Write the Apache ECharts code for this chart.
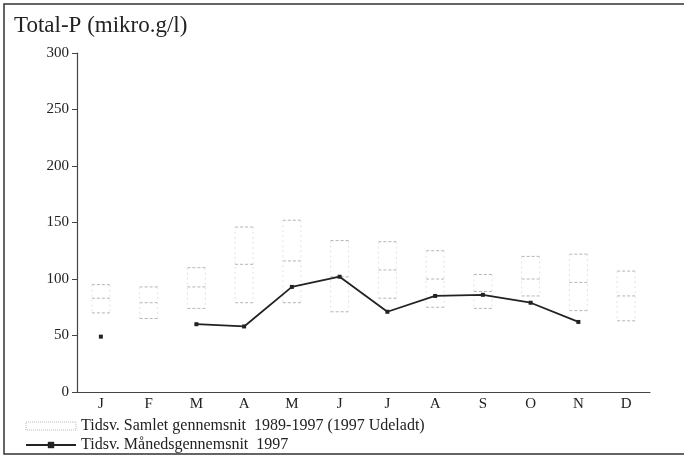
<!DOCTYPE html>
<html>
<head>
	<meta charset="utf-8" />
	<title>Total-P</title>
	<script type="text/javascript" src="https://cdn.jsdelivr.net/npm/echarts@6/dist/echarts.min.js"></script>
	<style>
		html, body {margin:0;padding:0;background:#fff;}
		#chart {width:684px;height:459px;}
	</style>
</head>
<body>
	<div id="chart"></div>
	<script>
		var months = ['J', 'F', 'M', 'A', 'M', 'J', 'J', 'A', 'S', 'O', 'N', 'D'];
		var yTicks = [0, 50, 100, 150, 200, 250, 300];

		// Tidsv. Samlet gennemsnit 1989-1997 (lav / middel / høj)
		var avgLow  = [70, 65, 74, 79, 79, 71, 83, 75, 74, 85, 72, 63];
		var avgMid  = [83, 79, 93, 113, 116, 102, 108, 100, 89, 100, 97, 85];
		var avgHigh = [95, 93, 110, 146, 152, 134, 133, 125, 104, 120, 122, 107];

		// Tidsv. Månedsgennemsnit 1997
		var month1997 = [49, '-', 60, 58, 93, 102, 71, 85, 86, 79, 62, '-'];

		var fontFam = '"Liberation Serif", "DejaVu Serif", serif';
		var boxName = 'Tidsv. Samlet gennemsnit  1989-1997 (1997 Udeladt)';
		var lineName = 'Tidsv. Månedsgennemsnit  1997';

		var boxData = months.map(function(m, i) {
			return [i, avgLow[i], avgMid[i], avgHigh[i]];
		});

		// faint dotted box: clear horizontal dashes, very light sides
		function renderBox(params, api) {
			var x = api.coord([api.value(0), 0])[0];
			var yLow = api.coord([api.value(0), api.value(1)])[1];
			var yMid = api.coord([api.value(0), api.value(2)])[1];
			var yHigh = api.coord([api.value(0), api.value(3)])[1];
			var hw = 9;
			var hStyle = {stroke: '#b4b4b4', lineWidth: 1, lineDash: [3, 2]};
			var vStyle = {stroke: '#e2e2e2', lineWidth: 1, lineDash: [2, 3]};
			return {
				type: 'group',
				children: [
					{type: 'line', shape: {x1: x - hw, y1: yHigh, x2: x + hw, y2: yHigh}, style: hStyle},
					{type: 'line', shape: {x1: x - hw, y1: yMid, x2: x + hw, y2: yMid}, style: hStyle},
					{type: 'line', shape: {x1: x - hw, y1: yLow, x2: x + hw, y2: yLow}, style: hStyle},
					{type: 'line', shape: {x1: x - hw, y1: yHigh, x2: x - hw, y2: yLow}, style: vStyle},
					{type: 'line', shape: {x1: x + hw, y1: yHigh, x2: x + hw, y2: yLow}, style: vStyle}
				]
			};
		}

		var chart = echarts.init(document.getElementById('chart'));

		var option = {
			animation: false,
			textStyle: {fontFamily: fontFam, color: '#222'},
			grid: {left: 77, right: 34, top: 53, bottom: 67},
			title: {
				text: 'Total-P (mikro.g/l)',
				left: 9, top: 9,
				textStyle: {fontFamily: fontFam, fontSize: 23, fontWeight: 'normal', color: '#222'}
			},
			legend: {
				orient: 'vertical',
				left: 20, top: 413,
				itemWidth: 50, itemHeight: 8, itemGap: 3,
				textStyle: {fontFamily: fontFam, fontSize: 16, color: '#222'},
				data: [
					{name: boxName, icon: 'rect', itemStyle: {color: 'transparent', borderColor: '#bbb', borderWidth: 1, borderType: 'dotted'}},
					{name: lineName}
				]
			},
			xAxis: {
				type: 'category',
				data: months,
				boundaryGap: true,
				axisLine: {lineStyle: {color: '#444', width: 1.2}},
				axisTick: {inside: true, length: 5, lineStyle: {color: '#444'}},
				axisLabel: {fontFamily: fontFam, fontSize: 15, color: '#222', margin: 5},
				splitLine: {show: false}
			},
			yAxis: {
				type: 'value',
				min: yTicks[0], max: yTicks[yTicks.length - 1], interval: 50,
				axisLine: {show: true, lineStyle: {color: '#444', width: 1.2}},
				axisTick: {show: true, length: 5, lineStyle: {color: '#444'}},
				axisLabel: {fontFamily: fontFam, fontSize: 15, color: '#222', margin: 8},
				splitLine: {show: false}
			},
			series: [
				{
					name: boxName,
					type: 'custom',
					renderItem: renderBox,
					data: boxData,
					encode: {x: 0, y: [1, 2, 3]},
					silent: true
				},
				{
					name: lineName,
					type: 'line',
					data: month1997,
					connectNulls: false,
					symbol: 'rect',
					symbolSize: 4,
					showSymbol: true,
					lineStyle: {color: '#222', width: 1.8},
					itemStyle: {color: '#222'}
				}
			],
			graphic: [
				{
					type: 'rect',
					shape: {x: 4, y: 4, width: 700, height: 450},
					style: {fill: 'none', stroke: '#333', lineWidth: 1.5},
					silent: true
				}
			]
		};

		chart.setOption(option);
	</script>
</body>
</html>
